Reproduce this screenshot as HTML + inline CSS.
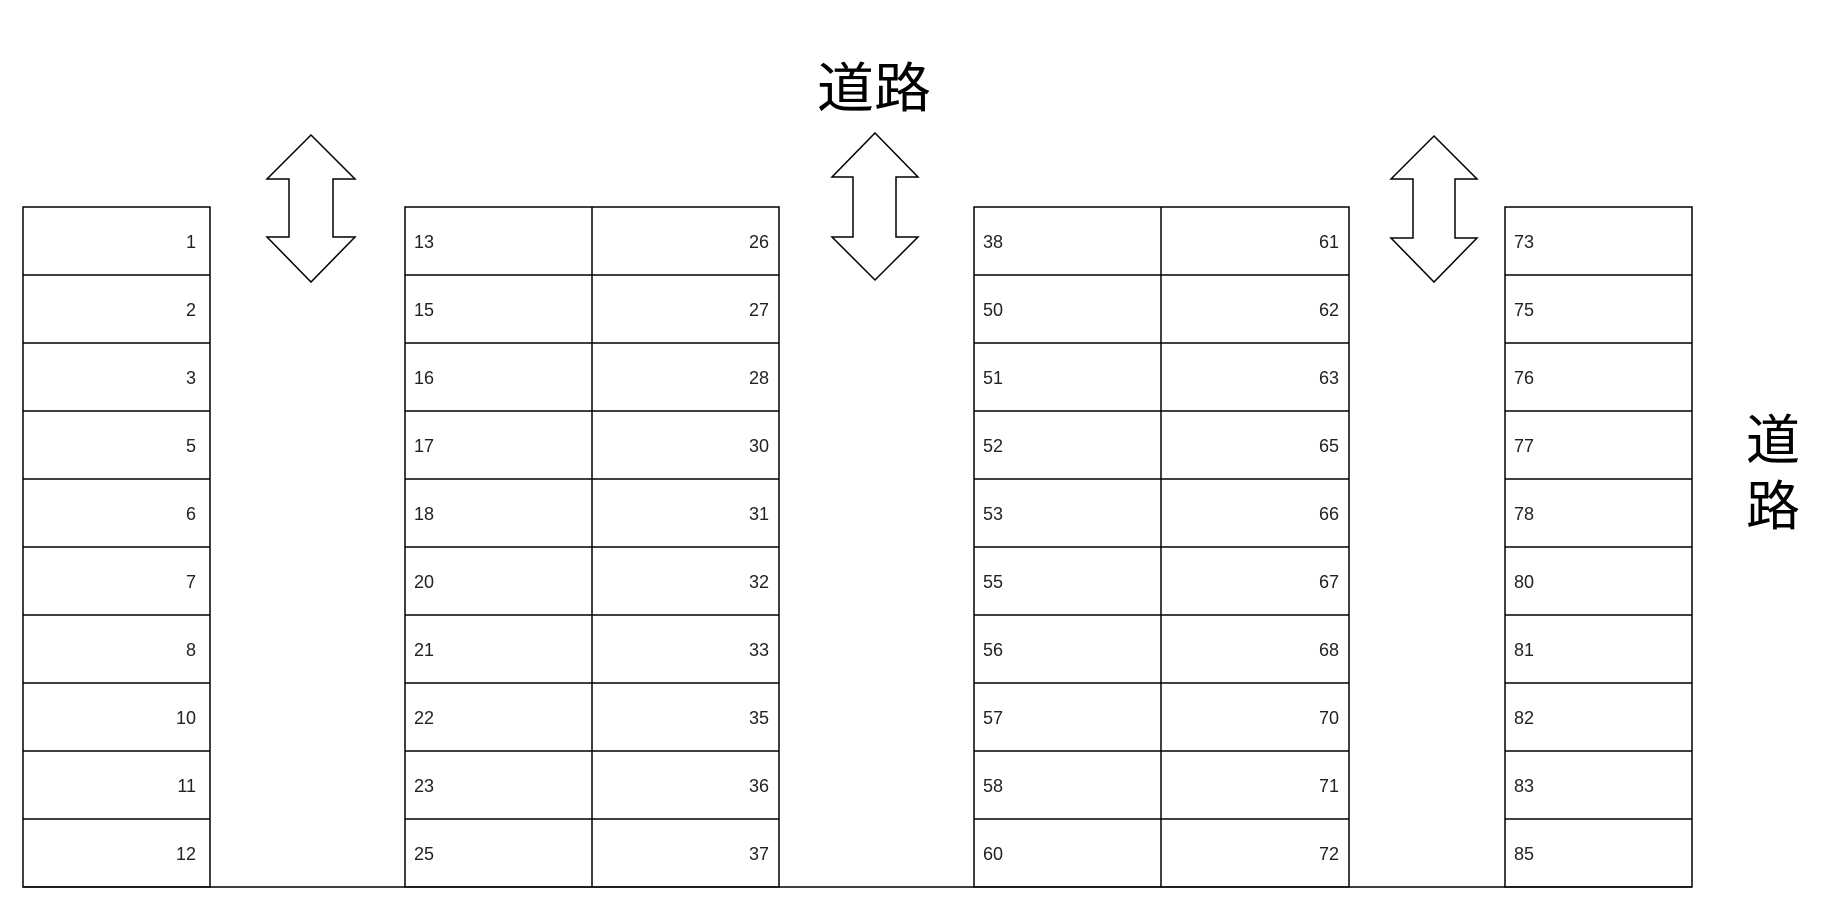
<!DOCTYPE html>
<html><head><meta charset="utf-8"><style>
html,body{margin:0;padding:0;background:#fff;}
svg{display:block}
text{font-family:"Liberation Sans","Noto Sans CJK JP",sans-serif;}
.n{font-size:18px;fill:#222;}
.r{font-size:54px;fill:#000;font-weight:normal;}
</style></head><body>
<svg width="1840" height="922" viewBox="0 0 1840 922" xmlns="http://www.w3.org/2000/svg">
<g fill="none" stroke="#000" stroke-width="1.5">
<line x1="23" y1="887" x2="1692" y2="887"/>
<rect x="23" y="207" width="187" height="680"/>
<rect x="405" y="207" width="374" height="680"/>
<line x1="592" y1="207" x2="592" y2="887"/>
<rect x="974" y="207" width="375" height="680"/>
<line x1="1161" y1="207" x2="1161" y2="887"/>
<rect x="1505" y="207" width="187" height="680"/>
<path d="M23 275H210M23 343H210M23 411H210M23 479H210M23 547H210M23 615H210M23 683H210M23 751H210M23 819H210
M405 275H779M405 343H779M405 411H779M405 479H779M405 547H779M405 615H779M405 683H779M405 751H779M405 819H779
M974 275H1349M974 343H1349M974 411H1349M974 479H1349M974 547H1349M974 615H1349M974 683H1349M974 751H1349M974 819H1349
M1505 275H1692M1505 343H1692M1505 411H1692M1505 479H1692M1505 547H1692M1505 615H1692M1505 683H1692M1505 751H1692M1505 819H1692"/>
<polygon points="311,135 355,179 333,179 333,237 355,237 311,282 267,237 289,237 289,179 267,179"/>
<polygon points="875,133 918,177 896,177 896,237 918,237 875,280 832,237 853,237 853,177 832,177"/>
<polygon points="1434,136 1477,179 1455,179 1455,238 1477,238 1434,282 1391,238 1413,238 1413,179 1391,179"/>
</g>
<g class="n">
<g text-anchor="end">
<text x="196" y="248">1</text><text x="196" y="316">2</text><text x="196" y="384">3</text><text x="196" y="452">5</text><text x="196" y="520">6</text><text x="196" y="588">7</text><text x="196" y="656">8</text><text x="196" y="724">10</text><text x="196" y="792">11</text><text x="196" y="860">12</text>
<text x="769" y="248">26</text><text x="769" y="316">27</text><text x="769" y="384">28</text><text x="769" y="452">30</text><text x="769" y="520">31</text><text x="769" y="588">32</text><text x="769" y="656">33</text><text x="769" y="724">35</text><text x="769" y="792">36</text><text x="769" y="860">37</text>
<text x="1339" y="248">61</text><text x="1339" y="316">62</text><text x="1339" y="384">63</text><text x="1339" y="452">65</text><text x="1339" y="520">66</text><text x="1339" y="588">67</text><text x="1339" y="656">68</text><text x="1339" y="724">70</text><text x="1339" y="792">71</text><text x="1339" y="860">72</text>
</g>
<text x="414" y="248">13</text><text x="414" y="316">15</text><text x="414" y="384">16</text><text x="414" y="452">17</text><text x="414" y="520">18</text><text x="414" y="588">20</text><text x="414" y="656">21</text><text x="414" y="724">22</text><text x="414" y="792">23</text><text x="414" y="860">25</text>
<text x="983" y="248">38</text><text x="983" y="316">50</text><text x="983" y="384">51</text><text x="983" y="452">52</text><text x="983" y="520">53</text><text x="983" y="588">55</text><text x="983" y="656">56</text><text x="983" y="724">57</text><text x="983" y="792">58</text><text x="983" y="860">60</text>
<text x="1514" y="248">73</text><text x="1514" y="316">75</text><text x="1514" y="384">76</text><text x="1514" y="452">77</text><text x="1514" y="520">78</text><text x="1514" y="588">80</text><text x="1514" y="656">81</text><text x="1514" y="724">82</text><text x="1514" y="792">83</text><text x="1514" y="860">85</text>
</g>
<text class="r" x="817" y="107" textLength="114" lengthAdjust="spacingAndGlyphs">道路</text>
<text class="r" x="1746" y="459">道</text>
<text class="r" x="1746" y="525">路</text>
</svg>
</body></html>
